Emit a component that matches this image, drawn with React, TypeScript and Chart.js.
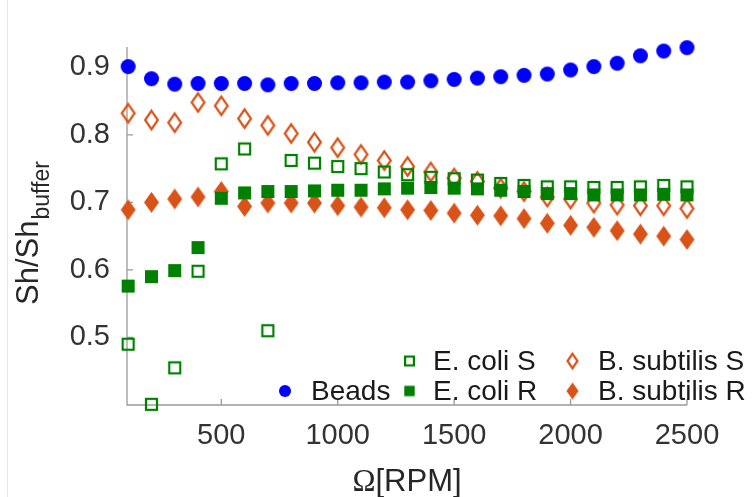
import React, { useEffect, useRef } from "react";
import { Chart, registerables } from "chart.js";
Chart.register(...registerables);

const rpm = [100, 200, 300, 400, 500, 600, 700, 800, 900, 1000, 1100, 1200, 1300, 1400, 1500, 1600, 1700, 1800, 1900, 2000, 2100, 2200, 2300, 2400, 2500];
const beads = [0.901, 0.883, 0.875, 0.876, 0.876, 0.876, 0.874, 0.876, 0.876, 0.877, 0.877, 0.878, 0.878, 0.880, 0.882, 0.884, 0.886, 0.888, 0.890, 0.896, 0.901, 0.906, 0.917, 0.924, 0.929];
const eColiS = [0.490, 0.401, 0.455, 0.598, 0.757, 0.779, 0.510, 0.762, 0.758, 0.753, 0.750, 0.745, 0.741, 0.737, 0.735, 0.733, 0.728, 0.725, 0.723, 0.723, 0.722, 0.722, 0.723, 0.725, 0.723];
const eColiR = [0.576, 0.590, 0.599, 0.633, 0.706, 0.714, 0.716, 0.716, 0.717, 0.718, 0.718, 0.720, 0.721, 0.722, 0.721, 0.720, 0.718, 0.716, 0.713, 0.713, 0.711, 0.711, 0.711, 0.712, 0.711];
const bSubS = [0.832, 0.822, 0.818, 0.848, 0.843, 0.824, 0.814, 0.802, 0.789, 0.781, 0.771, 0.762, 0.753, 0.745, 0.736, 0.731, 0.721, 0.716, 0.708, 0.705, 0.699, 0.696, 0.695, 0.695, 0.691];
const bSubR = [0.689, 0.700, 0.705, 0.708, 0.716, 0.694, 0.699, 0.699, 0.699, 0.695, 0.693, 0.692, 0.689, 0.688, 0.684, 0.681, 0.680, 0.676, 0.669, 0.666, 0.663, 0.658, 0.653, 0.650, 0.645];
const seriesNames = ["Beads", "E. coli S", "E. coli R", "B. subtilis S", "B. subtilis R"];
const xTicks = [500, 1000, 1500, 2000, 2500];
const yTicks = [0.5, 0.6, 0.7, 0.8, 0.9];
const xTitleSymbol = "Ω";
const xTitleUnit = "[RPM]";
const yTitleMain = "Sh/Sh";
const yTitleSub = "buffer";

const SANS = '"Liberation Sans", Arial, Helvetica, sans-serif';
const SERIF = '"Liberation Serif", "DejaVu Serif", serif';
const BLUE = "#0000ff";
const GREEN = "#008000";
const ORANGE = "#d95319";

function mk(w: number, h: number, draw: (g: CanvasRenderingContext2D) => void) {
  const c = document.createElement("canvas");
  c.width = w;
  c.height = h;
  const g = c.getContext("2d")!;
  draw(g);
  return c;
}

function diamond(g: CanvasRenderingContext2D, cx: number, cy: number, hw: number, hh: number) {
  g.beginPath();
  g.moveTo(cx, cy - hh);
  g.lineTo(cx + hw, cy);
  g.lineTo(cx, cy + hh);
  g.lineTo(cx - hw, cy);
  g.closePath();
}

function makeMarkers(scale: number) {
  const s = scale;
  const dotR = 7.5 * s;
  const dW = Math.ceil(dotR * 2 + 2);
  const dot = mk(dW, dW, (g) => {
    g.fillStyle = BLUE;
    g.beginPath();
    g.arc(dW / 2, dW / 2, dotR, 0, Math.PI * 2);
    g.fill();
  });
  const sq = 11 * s;
  const sW = Math.ceil(sq + 4);
  const openSq = mk(sW, sW, (g) => {
    g.strokeStyle = GREEN;
    g.lineWidth = 2.2;
    g.strokeRect((sW - sq) / 2, (sW - sq) / 2, sq, sq);
  });
  const fsq = 13 * s;
  const fW = Math.ceil(fsq + 2);
  const fillSq = mk(fW, fW, (g) => {
    g.fillStyle = GREEN;
    g.fillRect((fW - fsq) / 2, (fW - fsq) / 2, fsq, fsq);
  });
  const hw = 7 * s;
  const hh = 10 * s;
  const DW = Math.ceil(hw * 2 + 5);
  const DH = Math.ceil(hh * 2 + 5);
  const openD = mk(DW, DH, (g) => {
    g.strokeStyle = ORANGE;
    g.lineWidth = 2.2;
    diamond(g, DW / 2, DH / 2, hw - 0.6, hh - 0.8);
    g.stroke();
  });
  const fillD = mk(DW, DH, (g) => {
    g.fillStyle = ORANGE;
    diamond(g, DW / 2, DH / 2, hw + 0.5, hh + 0.5);
    g.fill();
  });
  return [dot, openSq, fillSq, openD, fillD];
}

export default function App() {
  const ref = useRef<HTMLCanvasElement>(null);
  useEffect(() => {
    document.body.style.margin = "0";
    const markers = makeMarkers(1);
    const legendMarkers = makeMarkers(0.8);
    const values = [beads, eColiS, eColiR, bSubS, bSubR];

    const deco = {
      id: "deco",
      beforeDatasetsDraw(chart: any) {
        const { ctx, chartArea: a, scales } = chart;
        const x = scales.x;
        const y = scales.y;
        ctx.save();
        ctx.strokeStyle = "#e4e4e4";
        ctx.lineWidth = 1;
        ctx.beginPath();
        ctx.moveTo(7.5, 0);
        ctx.lineTo(7.5, 497);
        ctx.stroke();
        ctx.strokeStyle = "#9a9a9a";
        ctx.lineWidth = 1.3;
        ctx.beginPath();
        ctx.moveTo(a.left, a.top);
        ctx.lineTo(a.left, a.bottom);
        ctx.lineTo(a.right, a.bottom);
        xTicks.forEach((v) => {
          const px = x.getPixelForValue(v);
          ctx.moveTo(px, a.bottom);
          ctx.lineTo(px, a.bottom - 6);
        });
        yTicks.forEach((v) => {
          const py = y.getPixelForValue(v);
          ctx.moveTo(a.left, py);
          ctx.lineTo(a.left + 6, py);
        });
        ctx.stroke();
        ctx.restore();
      },
      afterDraw(chart: any) {
        const { ctx, chartArea: a } = chart;
        ctx.save();
        // x title
        const cx = (a.left + a.right) / 2;
        ctx.textBaseline = "alphabetic";
        ctx.fillStyle = "#262626";
        ctx.font = `31px ${SERIF}`;
        const w1 = ctx.measureText(xTitleSymbol).width;
        ctx.font = `31px ${SANS}`;
        const w2 = ctx.measureText(xTitleUnit).width;
        const sx = cx - (w1 + w2) / 2;
        ctx.textAlign = "left";
        ctx.font = `31px ${SERIF}`;
        ctx.fillText(xTitleSymbol, sx, 491);
        ctx.font = `31px ${SANS}`;
        ctx.fillText(xTitleUnit, sx + w1, 491);
        // y title
        ctx.save();
        ctx.translate(38, 305);
        ctx.rotate(-Math.PI / 2);
        ctx.font = `31px ${SANS}`;
        ctx.fillText(yTitleMain, 0, 0);
        const wm = ctx.measureText(yTitleMain).width;
        ctx.font = `23px ${SANS}`;
        ctx.fillText(yTitleSub, wm + 1, 11);
        ctx.restore();
        // legend
        const r1 = 361;
        const r2 = 391;
        const entries = [
          { m: 0, x: 285, y: r2, tx: 311 },
          { m: 1, x: 409.5, y: r1, tx: 433 },
          { m: 2, x: 409.5, y: r2, tx: 433 },
          { m: 3, x: 572.5, y: r1, tx: 598 },
          { m: 4, x: 572.5, y: r2, tx: 598 },
        ];
        ctx.font = `28px ${SANS}`;
        ctx.fillStyle = "#1a1a1a";
        ctx.textBaseline = "middle";
        entries.forEach((e) => {
          const img = legendMarkers[e.m];
          ctx.drawImage(img, e.x - img.width / 2, e.y - img.height / 2);
          ctx.fillText(seriesNames[e.m], e.tx, e.y + 1);
        });
        ctx.restore();
      },
    };

    const chart = new Chart(ref.current!, {
      type: "scatter",
      data: {
        datasets: values.map((vals, i) => ({
          label: seriesNames[i],
          data: rpm.map((r, j) => ({ x: r, y: vals[j] })),
          pointStyle: markers[i] as any,
          pointRadius: 8,
          clip: false as any,
        })),
      },
      options: {
        responsive: false,
        animation: false,
        events: [],
        layout: { padding: { top: 47, right: 65, left: 0, bottom: 0 } },
        plugins: { legend: { display: false }, tooltip: { enabled: false } },
        scales: {
          x: {
            type: "linear",
            min: 95,
            max: 2500,
            border: { display: false },
            grid: { display: false, drawTicks: false },
            afterBuildTicks: (s: any) => {
              s.ticks = xTicks.map((v) => ({ value: v }));
            },
            afterFit: (s: any) => {
              s.height = 92;
            },
            ticks: {
              padding: 14,
              color: "#333",
              font: { family: SANS, size: 29 },
              maxRotation: 0,
              autoSkip: false,
              callback: (v: any) => String(v),
            },
          },
          y: {
            type: "linear",
            min: 0.4,
            max: 0.93,
            border: { display: false },
            grid: { display: false, drawTicks: false },
            afterBuildTicks: (s: any) => {
              s.ticks = yTicks.map((v) => ({ value: v }));
            },
            afterFit: (s: any) => {
              s.width = 127;
            },
            ticks: {
              padding: 17,
              color: "#333",
              font: { family: SANS, size: 29 },
              callback: (v: any) => Number(v).toFixed(1),
            },
          },
        },
      },
      plugins: [deco],
    });
    return () => chart.destroy();
  }, []);
  return (
    <div style={{ width: 752, height: 497, position: "relative", background: "#fff" }}>
      <canvas ref={ref} width={752} height={497} />
    </div>
  );
}
